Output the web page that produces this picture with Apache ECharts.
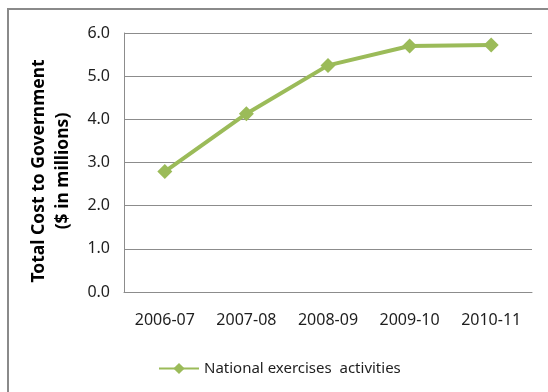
<!DOCTYPE html>
<html>
<head>
<meta charset="utf-8">
<style>
  html, body { margin: 0; padding: 0; background: #fff; }
  #chart { width: 548px; height: 392px; }
</style>
<script src="https://cdn.jsdelivr.net/npm/echarts@6/dist/echarts.min.js"></script>
</head>
<body>
<div id="chart"></div>
<script>
// Fiscal years on the x axis
const years = ['2006-07', '2007-08', '2008-09', '2009-10', '2010-11'];
// Total cost to government, $ millions
const costs = [2.79, 4.13, 5.25, 5.70, 5.72];
const seriesName = 'National exercises  activities';
const axisTitle = 'Total Cost to Government\n($ in millions)';

const font = '"Noto Sans", "Open Sans", sans-serif';
const green = '#9BBB59';
const gridGray = '#8c8c8c';
const textColor = '#1e1e1e';

const chart = echarts.init(document.getElementById('chart'), null, { renderer: 'canvas' });
chart.setOption({
  animation: false,
  backgroundColor: '#fff',
  graphic: [{
    type: 'rect',
    shape: { x: 8, y: 9, width: 700, height: 500 },
    style: { fill: 'none', stroke: '#8a8a8a', lineWidth: 2 },
    silent: true
  }],
  grid: { left: 124, right: 16, top: 33, bottom: 100 },
  xAxis: {
    type: 'category',
    data: years,
    boundaryGap: true,
    axisLine: { lineStyle: { color: gridGray, width: 1 } },
    axisTick: { show: false },
    axisLabel: { color: textColor, fontFamily: font, fontSize: 16, margin: 20 }
  },
  yAxis: {
    type: 'value',
    min: 0, max: 6, interval: 1,
    name: axisTitle,
    nameLocation: 'middle',
    nameRotate: 90,
    nameGap: 49,
    nameTextStyle: {
      color: '#000', fontFamily: font, fontSize: 17.5, fontWeight: 'bold',
      lineHeight: 24, padding: [0, 17, 0, 0]
    },
    axisLine: { show: true, lineStyle: { color: gridGray, width: 1 } },
    axisTick: { show: false },
    splitLine: { lineStyle: { color: gridGray, width: 1 } },
    axisLabel: { color: textColor, fontFamily: font, fontSize: 16, margin: 14,
      formatter: v => v.toFixed(1) }
  },
  legend: {
    left: 153, top: 356,
    itemWidth: 40, itemHeight: 14, itemGap: 10,
    textStyle: { color: textColor, fontFamily: font, fontSize: 15 },
    data: [{ name: seriesName }]
  },
  series: [{
    name: seriesName,
    type: 'line',
    data: costs,
    symbol: 'diamond',
    symbolSize: 15,
    lineStyle: { color: green, width: 4 },
    itemStyle: { color: green }
  }]
});
</script>
</body>
</html>
